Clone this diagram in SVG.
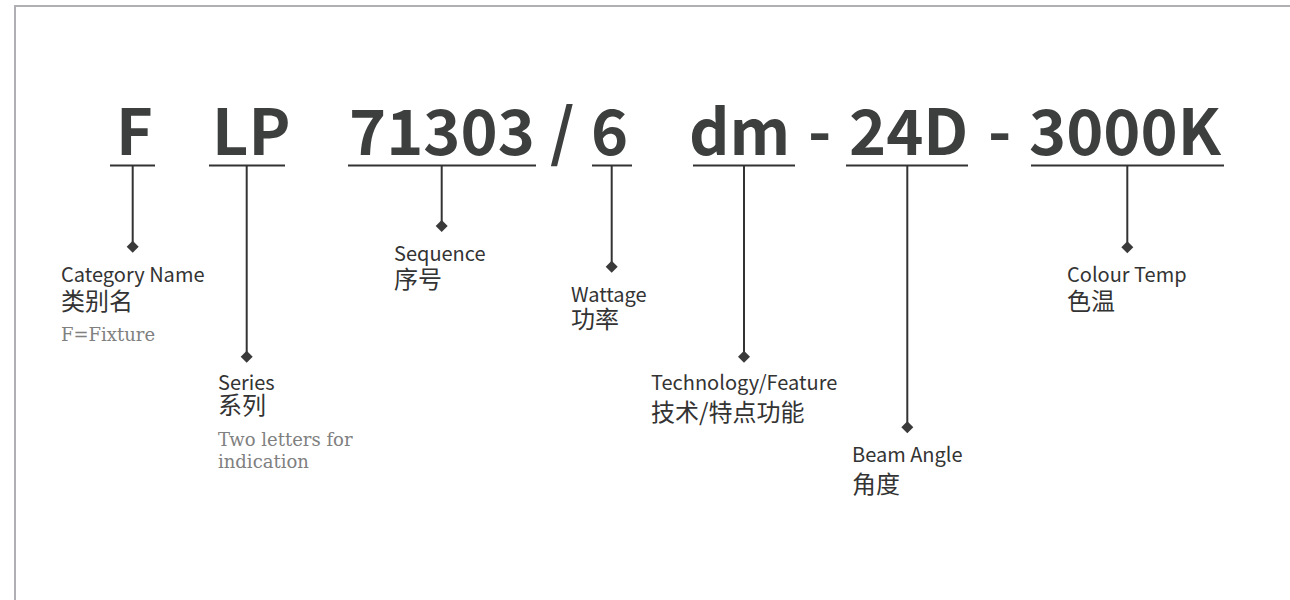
<svg xmlns="http://www.w3.org/2000/svg" width="1290" height="600" viewBox="0 0 1290 600">
<defs>
<style>
.code{font-family:"Noto Sans CJK SC","Noto Sans",sans-serif;font-weight:700;font-size:63px;fill:#3d3f3f}
.en{font-family:"Noto Sans CJK SC","Noto Sans",sans-serif;font-weight:400;font-size:20px;fill:#333333}
.zh{font-family:"Noto Sans CJK SC",sans-serif;font-size:24px;fill:#333333}
.note{font-family:"DejaVu Serif",serif;font-size:18px;fill:#808080}
.ul{stroke:#333333;stroke-width:2;fill:none}
.lead{stroke:#333333;stroke-width:2;fill:none}
.dm{fill:#3a3a3a}
</style>
</defs>
<rect x="15" y="6" width="1300" height="700" fill="#ffffff" stroke="#b0b0b4" stroke-width="2"/>
<g id="code">
<text class="code" x="116" y="155">F</text>
<text class="code" x="212" y="155">LP</text>
<text class="code" x="349" y="155">71303</text>
<text class="code" x="550" y="155">/</text>
<text class="code" x="591" y="155">6</text>
<text class="code" x="689" y="155">dm</text>
<text class="code" x="808" y="155">-</text>
<text class="code" x="849" y="155">24D</text>
<text class="code" x="988" y="155">-</text>
<text class="code" x="1029" y="155">3000K</text>
</g>
<g id="connectors">
<line class="ul" x1="110" y1="165.5" x2="155" y2="165.5"/>
<line class="ul" x1="209" y1="165.5" x2="285" y2="165.5"/>
<line class="ul" x1="348" y1="165.5" x2="536" y2="165.5"/>
<line class="ul" x1="592" y1="165.5" x2="632" y2="165.5"/>
<line class="ul" x1="693" y1="165.5" x2="795" y2="165.5"/>
<line class="ul" x1="846" y1="165.5" x2="968" y2="165.5"/>
<line class="ul" x1="1031" y1="165.5" x2="1224" y2="165.5"/>
<line class="lead" x1="132.7" y1="165" x2="132.7" y2="246.7"/>
<line class="lead" x1="246.7" y1="165" x2="246.7" y2="356.7"/>
<line class="lead" x1="441.7" y1="165" x2="441.7" y2="226"/>
<line class="lead" x1="611.7" y1="165" x2="611.7" y2="266.7"/>
<line class="lead" x1="744" y1="165" x2="744" y2="356.7"/>
<line class="lead" x1="907.3" y1="165" x2="907.3" y2="427.3"/>
<line class="lead" x1="1127.3" y1="165" x2="1127.3" y2="247.3"/>
<polygon class="dm" points="132.7,240.7 138.7,246.7 132.7,252.7 126.7,246.7"/>
<polygon class="dm" points="246.7,350.7 252.7,356.7 246.7,362.7 240.7,356.7"/>
<polygon class="dm" points="441.7,220 447.7,226 441.7,232 435.7,226"/>
<polygon class="dm" points="611.7,260.7 617.7,266.7 611.7,272.7 605.7,266.7"/>
<polygon class="dm" points="744,350.7 750,356.7 744,362.7 738,356.7"/>
<polygon class="dm" points="907.3,421.3 913.3,427.3 907.3,433.3 901.3,427.3"/>
<polygon class="dm" points="1127.3,241.3 1133.3,247.3 1127.3,253.3 1121.3,247.3"/>
</g>
<g id="category">
<text class="en" x="61" y="282">Category Name</text>
<text class="zh" x="61" y="310">类别名</text>
<text class="note" x="61" y="341">F=Fixture</text>
</g>
<g id="series">
<text class="en" x="218" y="390">Series</text>
<text class="zh" x="218" y="414">系列</text>
<text class="note" x="218" y="446">Two letters for</text>
<text class="note" x="218" y="468">indication</text>
</g>
<g id="sequence">
<text class="en" x="394" y="261">Sequence</text>
<text class="zh" x="394" y="288">序号</text>
</g>
<g id="wattage">
<text class="en" x="571" y="301.5">Wattage</text>
<text class="zh" x="571" y="328">功率</text>
</g>
<g id="technology">
<text class="en" x="651" y="390">Technology/Feature</text>
<text class="zh" x="651" y="421">技术/特点功能</text>
</g>
<g id="beam">
<text class="en" x="852" y="461.5">Beam Angle</text>
<text class="zh" x="852" y="493">角度</text>
</g>
<g id="colour">
<text class="en" x="1067" y="282">Colour Temp</text>
<text class="zh" x="1067" y="310">色温</text>
</g>
</svg>
